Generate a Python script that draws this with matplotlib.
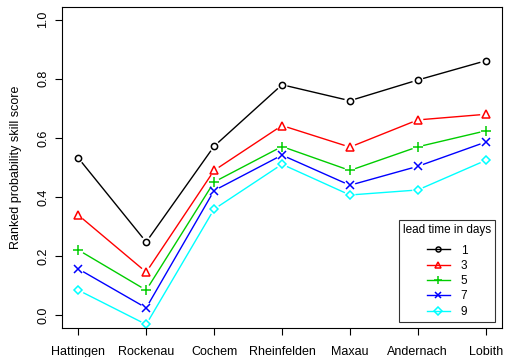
import numpy as np
import matplotlib
matplotlib.use("Agg")
import matplotlib.pyplot as plt

plt.rcParams['font.family'] = ['Liberation Sans', 'DejaVu Sans']

stations = ["Hattingen", "Rockenau", "Cochem", "Rheinfelden", "Maxau", "Andernach", "Lobith"]
lead_times = ["1", "3", "5", "7", "9"]

rpss_1 = [0.532, 0.248, 0.572, 0.780, 0.726, 0.796, 0.861]
rpss_3 = [0.339, 0.146, 0.490, 0.642, 0.569, 0.661, 0.680]
rpss_5 = [0.221, 0.085, 0.451, 0.571, 0.490, 0.570, 0.624]
rpss_7 = [0.157, 0.025, 0.422, 0.542, 0.440, 0.504, 0.586]
rpss_9 = [0.085, -0.031, 0.359, 0.511, 0.407, 0.424, 0.524]

series = [rpss_1, rpss_3, rpss_5, rpss_7, rpss_9]
colors = ["black", "#FF0000", "#00CD00", "#0000FF", "#00FFFF"]
markers = ["o", "^", "+", "x", "D"]
msizes = [4.5, 6, 7, 5.5, 4.5]

fig = plt.figure(figsize=(5.05, 3.57), dpi=100)
ax = fig.add_axes([0.1228, 0.0812, 0.8712, 0.8992])
x = np.arange(1, len(stations) + 1)
ax.set_xlim(0.76, 7.24)
ax.set_ylim(-0.043, 1.043)

# R style type="b": line segments with a gap around each point
gap = 5.5  # pixels
for vals, col, mk, ms in zip(series, colors, markers, msizes):
    pts = ax.transData.transform(np.column_stack([x, vals]))
    for p0, p1 in zip(pts[:-1], pts[1:]):
        d = p1 - p0
        u = d / np.hypot(*d)
        a, b = p0 + u * gap, p1 - u * gap
        seg = ax.transData.inverted().transform(np.array([a, b]))
        ax.plot(seg[:, 0], seg[:, 1], color=col, lw=1.0, solid_capstyle="butt")
    ax.plot(x, vals, linestyle="none", marker=mk, ms=ms, mfc="none", mec=col, mew=1.1)

# legend handles
handles = []
for col, mk, ms, lab in zip(colors, markers, msizes, lead_times):
    h, = ax.plot([], [], color=col, lw=1.0, marker=mk, ms=ms, mfc="none", mec=col, mew=1.1, label=lab)
    handles.append(h)
leg = ax.legend(handles=handles, title="lead time in days", loc="lower right",
                bbox_to_anchor=(0.9845, 0.019), borderaxespad=0, fontsize=8.5,
                title_fontsize=8.5, markerscale=0.8,
                frameon=True, fancybox=False, edgecolor="black", handlelength=2.0,
                borderpad=0.35, labelspacing=0.28, handletextpad=0.9)
leg.get_frame().set_linewidth(0.8)
leg._legend_box.align = "center"
leg._legend_box.sep = 6

ax.set_xticks(x)
ax.set_xticklabels(stations, fontsize=9)
ax.set_yticks([0.0, 0.2, 0.4, 0.6, 0.8, 1.0])
ax.set_yticklabels(["0.0", "0.2", "0.4", "0.6", "0.8", "1.0"], fontsize=9, rotation=90, va="center")
ax.tick_params(direction="out", length=5, width=0.8, pad=4)
ax.tick_params(axis="x", pad=8)
ax.set_ylabel("Ranked probability skill score", fontsize=9, labelpad=11)
for s in ax.spines.values():
    s.set_linewidth(0.8)

fig.savefig("out.png", dpi=100)
